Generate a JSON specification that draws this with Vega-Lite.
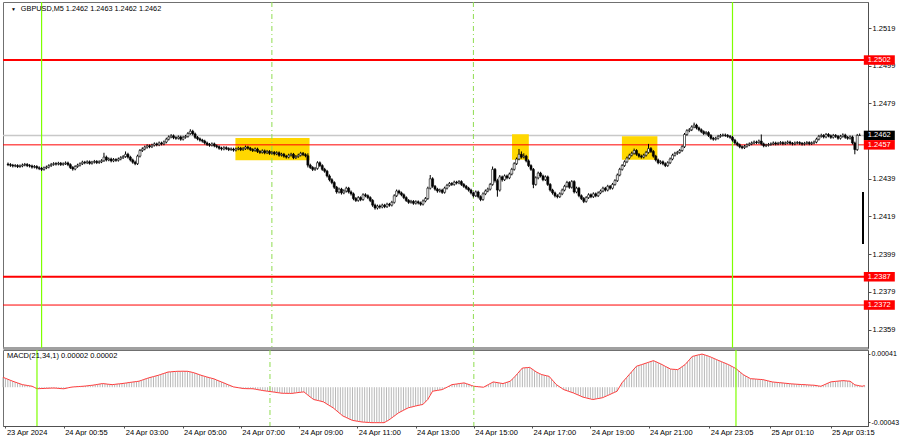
{
"$schema": "https://vega.github.io/schema/vega-lite/v6.json",
"padding": 0,
"background": "#ffffff",
"spacing": -2,
"config": {
 "font": "Liberation Sans",
 "view": {"stroke": "#707070", "strokeWidth": 1},
 "axis": {"labelFont": "Liberation Sans", "labelFontSize": 7.5, "labelColor": "#000000", "domainColor": "#505050", "tickColor": "#505050", "grid": false},
 "text": {"font": "Liberation Sans"}
},
"datasets": {
 "boxes": [{"a":80.8,"b":111.7,"lo":1.24488,"hi":1.24606},{"a":196.1,"b":203.1,"lo":1.24491,"hi":1.24626},{"a":241.9,"b":256.7,"lo":1.24491,"hi":1.24615}],
 "levels": [{"p":1.2502,"k":"major"},{"p":1.2457,"k":"minor"},{"p":1.2387,"k":"major"},{"p":1.2372,"k":"minor"}],
 "tags": [{"p":1.2462,"k":"bid"},{"p":1.2502,"k":"level"},{"p":1.2457,"k":"level"},{"p":1.2387,"k":"level"},{"p":1.2372,"k":"level"}],
 "vsolid": [{"i":0},{"i":288}],
 "vdash": [{"i":96},{"i":180}],
 "bars": [
{"i":-14,"o":1.24468,"h":1.24476,"l":1.24457,"c":1.24465,"m":0.000122},
{"i":-13,"o":1.24465,"h":1.24473,"l":1.24453,"c":1.24462,"m":0.00011},
{"i":-12,"o":1.24462,"h":1.24469,"l":1.2445,"c":1.24458,"m":0.000098},
{"i":-11,"o":1.24458,"h":1.24468,"l":1.24451,"c":1.2446,"m":0.000086},
{"i":-10,"o":1.2446,"h":1.24467,"l":1.24447,"c":1.24455,"m":0.000074},
{"i":-9,"o":1.24455,"h":1.24466,"l":1.24448,"c":1.24458,"m":0.000063},
{"i":-8,"o":1.24458,"h":1.24471,"l":1.24451,"c":1.24463,"m":0.000053},
{"i":-7,"o":1.24463,"h":1.24474,"l":1.24456,"c":1.24466,"m":0.000042},
{"i":-6,"o":1.24466,"h":1.24473,"l":1.24452,"c":1.2446,"m":0.000032},
{"i":-5,"o":1.2446,"h":1.24468,"l":1.2445,"c":1.24458,"m":0.000027},
{"i":-4,"o":1.24458,"h":1.24465,"l":1.24444,"c":1.24452,"m":0.000022},
{"i":-3,"o":1.24452,"h":1.24463,"l":1.24445,"c":1.24455,"m":0.000017},
{"i":-2,"o":1.24455,"h":1.24462,"l":1.2444,"c":1.24448,"m":0.000012},
{"i":-1,"o":1.24448,"h":1.24456,"l":1.24436,"c":1.24445,"m":-0.000003},
{"i":0,"o":1.24445,"h":1.24452,"l":1.24431,"c":1.2444,"m":-0.000019},
{"i":1,"o":1.2444,"h":1.24455,"l":1.24433,"c":1.24448,"m":-0.000017},
{"i":2,"o":1.24448,"h":1.2446,"l":1.24441,"c":1.24452,"m":-0.000016},
{"i":3,"o":1.24452,"h":1.24467,"l":1.24445,"c":1.2446,"m":-0.000015},
{"i":4,"o":1.2446,"h":1.24474,"l":1.24453,"c":1.24466,"m":-0.000013},
{"i":5,"o":1.24466,"h":1.24478,"l":1.24459,"c":1.2447,"m":-0.000012},
{"i":6,"o":1.2447,"h":1.24478,"l":1.2446,"c":1.24468,"m":-0.000011},
{"i":7,"o":1.24468,"h":1.2448,"l":1.24461,"c":1.24472,"m":-0.00001},
{"i":8,"o":1.24472,"h":1.24479,"l":1.24458,"c":1.24466,"m":-0.000012},
{"i":9,"o":1.24466,"h":1.24477,"l":1.24459,"c":1.2447,"m":-0.000015},
{"i":10,"o":1.2447,"h":1.24482,"l":1.24463,"c":1.24474,"m":-0.000017},
{"i":11,"o":1.24474,"h":1.24481,"l":1.24457,"c":1.24465,"m":-0.000019},
{"i":12,"o":1.24465,"h":1.24472,"l":1.24442,"c":1.2445,"m":-0.000013},
{"i":13,"o":1.2445,"h":1.24457,"l":1.24433,"c":1.24442,"m":-0.000006},
{"i":14,"o":1.24442,"h":1.24462,"l":1.24435,"c":1.24455,"m":0},
{"i":15,"o":1.24455,"h":1.2447,"l":1.24448,"c":1.24462,"m":0.000004},
{"i":16,"o":1.24462,"h":1.24477,"l":1.24455,"c":1.2447,"m":0.000006},
{"i":17,"o":1.2447,"h":1.24486,"l":1.24463,"c":1.24478,"m":0.000008},
{"i":18,"o":1.24478,"h":1.24485,"l":1.24467,"c":1.24475,"m":0.00001},
{"i":19,"o":1.24475,"h":1.24488,"l":1.24468,"c":1.2448,"m":0.000012},
{"i":20,"o":1.2448,"h":1.24487,"l":1.24465,"c":1.24472,"m":0.000015},
{"i":21,"o":1.24472,"h":1.24485,"l":1.24465,"c":1.24478,"m":0.000018},
{"i":22,"o":1.24478,"h":1.2449,"l":1.24471,"c":1.24482,"m":0.000022},
{"i":23,"o":1.24482,"h":1.24489,"l":1.24468,"c":1.24476,"m":0.000025},
{"i":24,"o":1.24476,"h":1.24488,"l":1.24469,"c":1.2448,"m":0.00003},
{"i":25,"o":1.2448,"h":1.24494,"l":1.24473,"c":1.24486,"m":0.000035},
{"i":26,"o":1.24486,"h":1.24528,"l":1.24479,"c":1.24505,"m":0.00004},
{"i":27,"o":1.24505,"h":1.24513,"l":1.24482,"c":1.2449,"m":0.000045},
{"i":28,"o":1.2449,"h":1.24503,"l":1.24483,"c":1.24495,"m":0.000042},
{"i":29,"o":1.24495,"h":1.24502,"l":1.24477,"c":1.24485,"m":0.000038},
{"i":30,"o":1.24485,"h":1.245,"l":1.24478,"c":1.24492,"m":0.000035},
{"i":31,"o":1.24492,"h":1.24499,"l":1.2448,"c":1.24488,"m":0.000032},
{"i":32,"o":1.24488,"h":1.24503,"l":1.24481,"c":1.24495,"m":0.000035},
{"i":33,"o":1.24495,"h":1.2451,"l":1.24488,"c":1.24502,"m":0.000039},
{"i":34,"o":1.24502,"h":1.24516,"l":1.24495,"c":1.24508,"m":0.000042},
{"i":35,"o":1.24508,"h":1.24535,"l":1.24501,"c":1.2452,"m":0.000045},
{"i":36,"o":1.2452,"h":1.24528,"l":1.24497,"c":1.24505,"m":0.000049},
{"i":37,"o":1.24505,"h":1.24512,"l":1.24482,"c":1.2449,"m":0.000053},
{"i":38,"o":1.2449,"h":1.24497,"l":1.2447,"c":1.24478,"m":0.000058},
{"i":39,"o":1.24478,"h":1.24486,"l":1.24462,"c":1.2447,"m":0.000062},
{"i":40,"o":1.2447,"h":1.24518,"l":1.24463,"c":1.2451,"m":0.000066},
{"i":41,"o":1.2451,"h":1.24548,"l":1.24503,"c":1.2454,"m":0.00007},
{"i":42,"o":1.2454,"h":1.24557,"l":1.24532,"c":1.24548,"m":0.000074},
{"i":43,"o":1.24548,"h":1.24566,"l":1.24541,"c":1.24558,"m":0.000084},
{"i":44,"o":1.24558,"h":1.24573,"l":1.2455,"c":1.24565,"m":0.000095},
{"i":45,"o":1.24565,"h":1.24572,"l":1.24552,"c":1.2456,"m":0.000105},
{"i":46,"o":1.2456,"h":1.24576,"l":1.24553,"c":1.24568,"m":0.000115},
{"i":47,"o":1.24568,"h":1.24583,"l":1.24561,"c":1.24575,"m":0.000123},
{"i":48,"o":1.24575,"h":1.24582,"l":1.24562,"c":1.2457,"m":0.000131},
{"i":49,"o":1.2457,"h":1.24588,"l":1.24563,"c":1.2458,"m":0.000139},
{"i":50,"o":1.2458,"h":1.24587,"l":1.24567,"c":1.24575,"m":0.000147},
{"i":51,"o":1.24575,"h":1.24593,"l":1.24568,"c":1.24585,"m":0.000157},
{"i":52,"o":1.24585,"h":1.24608,"l":1.24578,"c":1.246,"m":0.000167},
{"i":53,"o":1.246,"h":1.2462,"l":1.24593,"c":1.24612,"m":0.000177},
{"i":54,"o":1.24612,"h":1.24627,"l":1.24605,"c":1.24618,"m":0.000187},
{"i":55,"o":1.24618,"h":1.24625,"l":1.246,"c":1.24608,"m":0.000189},
{"i":56,"o":1.24608,"h":1.24616,"l":1.24597,"c":1.24605,"m":0.000192},
{"i":57,"o":1.24605,"h":1.2462,"l":1.24598,"c":1.24612,"m":0.000194},
{"i":58,"o":1.24612,"h":1.24619,"l":1.24592,"c":1.246,"m":0.000196},
{"i":59,"o":1.246,"h":1.24618,"l":1.24593,"c":1.2461,"m":0.000196},
{"i":60,"o":1.2461,"h":1.24623,"l":1.24603,"c":1.24615,"m":0.000197},
{"i":61,"o":1.24615,"h":1.24638,"l":1.24608,"c":1.2463,"m":0.000196},
{"i":62,"o":1.2463,"h":1.24653,"l":1.24623,"c":1.24642,"m":0.000196},
{"i":63,"o":1.24642,"h":1.2465,"l":1.2462,"c":1.24628,"m":0.00019},
{"i":64,"o":1.24628,"h":1.24635,"l":1.24602,"c":1.2461,"m":0.000183},
{"i":65,"o":1.2461,"h":1.24617,"l":1.24594,"c":1.24602,"m":0.000175},
{"i":66,"o":1.24602,"h":1.24609,"l":1.24587,"c":1.24595,"m":0.000164},
{"i":67,"o":1.24595,"h":1.24602,"l":1.24582,"c":1.2459,"m":0.000154},
{"i":68,"o":1.2459,"h":1.24597,"l":1.24572,"c":1.2458,"m":0.000143},
{"i":69,"o":1.2458,"h":1.24587,"l":1.24564,"c":1.24572,"m":0.000135},
{"i":70,"o":1.24572,"h":1.2458,"l":1.2456,"c":1.24568,"m":0.000126},
{"i":71,"o":1.24568,"h":1.24583,"l":1.24561,"c":1.24575,"m":0.000118},
{"i":72,"o":1.24575,"h":1.24582,"l":1.24557,"c":1.24565,"m":0.00011},
{"i":73,"o":1.24565,"h":1.24572,"l":1.24552,"c":1.2456,"m":0.000102},
{"i":74,"o":1.2456,"h":1.24567,"l":1.24544,"c":1.24552,"m":0.000089},
{"i":75,"o":1.24552,"h":1.2456,"l":1.2454,"c":1.24548,"m":0.000077},
{"i":76,"o":1.24548,"h":1.24563,"l":1.24541,"c":1.24555,"m":0.000065},
{"i":77,"o":1.24555,"h":1.24562,"l":1.24542,"c":1.2455,"m":0.000053},
{"i":78,"o":1.2455,"h":1.24557,"l":1.24537,"c":1.24545,"m":0.00004},
{"i":79,"o":1.24545,"h":1.24556,"l":1.24538,"c":1.24548,"m":0.000028},
{"i":80,"o":1.24548,"h":1.24555,"l":1.24534,"c":1.24542,"m":0.000016},
{"i":81,"o":1.24542,"h":1.24556,"l":1.24535,"c":1.24548,"m":0.000004},
{"i":82,"o":1.24548,"h":1.2456,"l":1.24541,"c":1.24552,"m":-0.000001},
{"i":83,"o":1.24552,"h":1.24559,"l":1.24537,"c":1.24545,"m":-0.000006},
{"i":84,"o":1.24545,"h":1.24558,"l":1.24538,"c":1.2455,"m":-0.000011},
{"i":85,"o":1.2455,"h":1.24566,"l":1.24543,"c":1.24558,"m":-0.000016},
{"i":86,"o":1.24558,"h":1.24565,"l":1.24544,"c":1.24552,"m":-0.000017},
{"i":87,"o":1.24552,"h":1.24559,"l":1.24537,"c":1.24545,"m":-0.000018},
{"i":88,"o":1.24545,"h":1.24552,"l":1.24532,"c":1.2454,"m":-0.000018},
{"i":89,"o":1.2454,"h":1.24556,"l":1.24533,"c":1.24548,"m":-0.000019},
{"i":90,"o":1.24548,"h":1.24555,"l":1.24527,"c":1.24535,"m":-0.000024},
{"i":91,"o":1.24535,"h":1.24542,"l":1.24522,"c":1.2453,"m":-0.00003},
{"i":92,"o":1.2453,"h":1.24546,"l":1.24523,"c":1.24538,"m":-0.000035},
{"i":93,"o":1.24538,"h":1.24545,"l":1.2452,"c":1.24528,"m":-0.000041},
{"i":94,"o":1.24528,"h":1.24543,"l":1.24521,"c":1.24535,"m":-0.000045},
{"i":95,"o":1.24535,"h":1.24542,"l":1.24517,"c":1.24525,"m":-0.000049},
{"i":96,"o":1.24525,"h":1.24538,"l":1.24518,"c":1.2453,"m":-0.000053},
{"i":97,"o":1.2453,"h":1.24537,"l":1.24514,"c":1.24522,"m":-0.000057},
{"i":98,"o":1.24522,"h":1.24536,"l":1.24515,"c":1.24528,"m":-0.000061},
{"i":99,"o":1.24528,"h":1.24535,"l":1.24507,"c":1.24515,"m":-0.000066},
{"i":100,"o":1.24515,"h":1.24528,"l":1.24508,"c":1.2452,"m":-0.00007},
{"i":101,"o":1.2452,"h":1.24527,"l":1.24502,"c":1.2451,"m":-0.000074},
{"i":102,"o":1.2451,"h":1.24517,"l":1.24497,"c":1.24505,"m":-0.000075},
{"i":103,"o":1.24505,"h":1.24523,"l":1.24498,"c":1.24515,"m":-0.000075},
{"i":104,"o":1.24515,"h":1.24528,"l":1.24508,"c":1.2452,"m":-0.000076},
{"i":105,"o":1.2452,"h":1.24527,"l":1.24494,"c":1.24502,"m":-0.000076},
{"i":106,"o":1.24502,"h":1.24516,"l":1.24495,"c":1.24508,"m":-0.000072},
{"i":107,"o":1.24508,"h":1.24523,"l":1.24501,"c":1.24515,"m":-0.000068},
{"i":108,"o":1.24515,"h":1.24533,"l":1.24508,"c":1.24525,"m":-0.000064},
{"i":109,"o":1.24525,"h":1.24532,"l":1.2451,"c":1.24518,"m":-0.000061},
{"i":110,"o":1.24518,"h":1.24525,"l":1.24504,"c":1.24512,"m":-0.000057},
{"i":111,"o":1.24512,"h":1.24525,"l":1.2445,"c":1.24462,"m":-0.000082},
{"i":112,"o":1.24462,"h":1.2447,"l":1.24442,"c":1.2445,"m":-0.000106},
{"i":113,"o":1.2445,"h":1.24457,"l":1.24431,"c":1.2444,"m":-0.000129},
{"i":114,"o":1.2444,"h":1.24453,"l":1.24432,"c":1.24445,"m":-0.000151},
{"i":115,"o":1.24445,"h":1.24483,"l":1.24438,"c":1.24475,"m":-0.000158},
{"i":116,"o":1.24475,"h":1.24482,"l":1.24452,"c":1.2446,"m":-0.000165},
{"i":117,"o":1.2446,"h":1.24467,"l":1.24432,"c":1.2444,"m":-0.000172},
{"i":118,"o":1.2444,"h":1.24448,"l":1.24422,"c":1.2443,"m":-0.00018},
{"i":119,"o":1.2443,"h":1.24437,"l":1.24397,"c":1.24405,"m":-0.000198},
{"i":120,"o":1.24405,"h":1.24413,"l":1.24376,"c":1.24385,"m":-0.000217},
{"i":121,"o":1.24385,"h":1.24393,"l":1.24361,"c":1.2437,"m":-0.000235},
{"i":122,"o":1.2437,"h":1.24377,"l":1.24336,"c":1.24345,"m":-0.000253},
{"i":123,"o":1.24345,"h":1.24352,"l":1.24311,"c":1.2432,"m":-0.000278},
{"i":124,"o":1.2432,"h":1.24343,"l":1.24312,"c":1.24335,"m":-0.000303},
{"i":125,"o":1.24335,"h":1.24342,"l":1.24306,"c":1.24315,"m":-0.000328},
{"i":126,"o":1.24315,"h":1.24334,"l":1.24308,"c":1.24325,"m":-0.000353},
{"i":127,"o":1.24325,"h":1.24348,"l":1.24317,"c":1.2434,"m":-0.000367},
{"i":128,"o":1.2434,"h":1.24347,"l":1.24312,"c":1.2432,"m":-0.000381},
{"i":129,"o":1.2432,"h":1.24328,"l":1.24301,"c":1.2431,"m":-0.000395},
{"i":130,"o":1.2431,"h":1.24317,"l":1.24276,"c":1.24285,"m":-0.000408},
{"i":131,"o":1.24285,"h":1.24293,"l":1.24267,"c":1.24275,"m":-0.000413},
{"i":132,"o":1.24275,"h":1.24298,"l":1.24268,"c":1.2429,"m":-0.000418},
{"i":133,"o":1.2429,"h":1.24297,"l":1.24271,"c":1.2428,"m":-0.000423},
{"i":134,"o":1.2428,"h":1.24313,"l":1.24273,"c":1.24305,"m":-0.000428},
{"i":135,"o":1.24305,"h":1.24313,"l":1.24292,"c":1.243,"m":-0.00043},
{"i":136,"o":1.243,"h":1.24307,"l":1.24282,"c":1.2429,"m":-0.000432},
{"i":137,"o":1.2429,"h":1.24297,"l":1.24266,"c":1.24275,"m":-0.000434},
{"i":138,"o":1.24275,"h":1.24282,"l":1.24241,"c":1.2425,"m":-0.000436},
{"i":139,"o":1.2425,"h":1.24258,"l":1.24226,"c":1.24235,"m":-0.000436},
{"i":140,"o":1.24235,"h":1.24253,"l":1.24227,"c":1.24245,"m":-0.000436},
{"i":141,"o":1.24245,"h":1.24253,"l":1.24231,"c":1.2424,"m":-0.000436},
{"i":142,"o":1.2424,"h":1.24258,"l":1.24233,"c":1.2425,"m":-0.000436},
{"i":143,"o":1.2425,"h":1.24257,"l":1.24234,"c":1.24242,"m":-0.000436},
{"i":144,"o":1.24242,"h":1.24263,"l":1.24235,"c":1.24255,"m":-0.00042},
{"i":145,"o":1.24255,"h":1.24262,"l":1.24242,"c":1.2425,"m":-0.000403},
{"i":146,"o":1.2425,"h":1.24273,"l":1.24243,"c":1.24265,"m":-0.000381},
{"i":147,"o":1.24265,"h":1.24308,"l":1.24258,"c":1.243,"m":-0.000359},
{"i":148,"o":1.243,"h":1.24333,"l":1.24293,"c":1.24325,"m":-0.000337},
{"i":149,"o":1.24325,"h":1.24332,"l":1.24307,"c":1.24315,"m":-0.000315},
{"i":150,"o":1.24315,"h":1.24322,"l":1.24297,"c":1.24305,"m":-0.000299},
{"i":151,"o":1.24305,"h":1.24312,"l":1.24282,"c":1.2429,"m":-0.000284},
{"i":152,"o":1.2429,"h":1.24297,"l":1.24267,"c":1.24275,"m":-0.000268},
{"i":153,"o":1.24275,"h":1.24282,"l":1.24257,"c":1.24265,"m":-0.000253},
{"i":154,"o":1.24265,"h":1.24278,"l":1.24258,"c":1.2427,"m":-0.000246},
{"i":155,"o":1.2427,"h":1.24277,"l":1.24252,"c":1.2426,"m":-0.000239},
{"i":156,"o":1.2426,"h":1.24276,"l":1.24253,"c":1.24268,"m":-0.000231},
{"i":157,"o":1.24268,"h":1.24275,"l":1.24254,"c":1.24262,"m":-0.000224},
{"i":158,"o":1.24262,"h":1.24269,"l":1.24247,"c":1.24255,"m":-0.000218},
{"i":159,"o":1.24255,"h":1.2428,"l":1.24248,"c":1.24272,"m":-0.000212},
{"i":160,"o":1.24272,"h":1.24293,"l":1.24265,"c":1.24285,"m":-0.000182},
{"i":161,"o":1.24285,"h":1.24348,"l":1.24278,"c":1.2434,"m":-0.000151},
{"i":162,"o":1.2434,"h":1.2441,"l":1.24333,"c":1.2439,"m":-0.0001},
{"i":163,"o":1.2439,"h":1.24398,"l":1.24342,"c":1.2435,"m":-0.000049},
{"i":164,"o":1.2435,"h":1.24357,"l":1.24327,"c":1.24335,"m":-0.000044},
{"i":165,"o":1.24335,"h":1.24342,"l":1.24316,"c":1.24325,"m":-0.000039},
{"i":166,"o":1.24325,"h":1.24338,"l":1.24317,"c":1.2433,"m":-0.000034},
{"i":167,"o":1.2433,"h":1.24337,"l":1.2431,"c":1.24318,"m":-0.000029},
{"i":168,"o":1.24318,"h":1.24348,"l":1.24311,"c":1.2434,"m":-0.000014},
{"i":169,"o":1.2434,"h":1.24363,"l":1.24333,"c":1.24355,"m":0.000001},
{"i":170,"o":1.24355,"h":1.24373,"l":1.24348,"c":1.24365,"m":0.000017},
{"i":171,"o":1.24365,"h":1.24372,"l":1.24352,"c":1.2436,"m":0.000032},
{"i":172,"o":1.2436,"h":1.2438,"l":1.24353,"c":1.24372,"m":0.000036},
{"i":173,"o":1.24372,"h":1.24379,"l":1.2436,"c":1.24368,"m":0.00004},
{"i":174,"o":1.24368,"h":1.24383,"l":1.24361,"c":1.24375,"m":0.000045},
{"i":175,"o":1.24375,"h":1.24382,"l":1.24352,"c":1.2436,"m":0.000049},
{"i":176,"o":1.2436,"h":1.24367,"l":1.24342,"c":1.2435,"m":0.000053},
{"i":177,"o":1.2435,"h":1.24357,"l":1.24332,"c":1.2434,"m":0.000043},
{"i":178,"o":1.2434,"h":1.24347,"l":1.24322,"c":1.2433,"m":0.000033},
{"i":179,"o":1.2433,"h":1.24337,"l":1.24307,"c":1.24315,"m":0.000022},
{"i":180,"o":1.24315,"h":1.24322,"l":1.24291,"c":1.243,"m":0.000012},
{"i":181,"o":1.243,"h":1.24328,"l":1.24293,"c":1.2432,"m":0.000009},
{"i":182,"o":1.2432,"h":1.24327,"l":1.24286,"c":1.24295,"m":0.000006},
{"i":183,"o":1.24295,"h":1.24302,"l":1.24271,"c":1.2428,"m":0.000003},
{"i":184,"o":1.2428,"h":1.24318,"l":1.24273,"c":1.2431,"m":0},
{"i":185,"o":1.2431,"h":1.24333,"l":1.24303,"c":1.24325,"m":0.000016},
{"i":186,"o":1.24325,"h":1.24343,"l":1.24318,"c":1.24335,"m":0.000033},
{"i":187,"o":1.24335,"h":1.24368,"l":1.24328,"c":1.2436,"m":0.000049},
{"i":188,"o":1.2436,"h":1.24455,"l":1.24353,"c":1.2444,"m":0.000065},
{"i":189,"o":1.2444,"h":1.24447,"l":1.2437,"c":1.2438,"m":0.00006},
{"i":190,"o":1.2438,"h":1.2439,"l":1.24295,"c":1.2433,"m":0.000055},
{"i":191,"o":1.2433,"h":1.2441,"l":1.24322,"c":1.244,"m":0.00005},
{"i":192,"o":1.244,"h":1.24407,"l":1.24375,"c":1.24385,"m":0.000045},
{"i":193,"o":1.24385,"h":1.24413,"l":1.24378,"c":1.24405,"m":0.000055},
{"i":194,"o":1.24405,"h":1.24412,"l":1.24387,"c":1.24395,"m":0.000064},
{"i":195,"o":1.24395,"h":1.24423,"l":1.24388,"c":1.24415,"m":0.000074},
{"i":196,"o":1.24415,"h":1.24448,"l":1.24408,"c":1.2444,"m":0.000104},
{"i":197,"o":1.2444,"h":1.24478,"l":1.24433,"c":1.2447,"m":0.000134},
{"i":198,"o":1.2447,"h":1.24503,"l":1.24463,"c":1.24495,"m":0.000168},
{"i":199,"o":1.24495,"h":1.24548,"l":1.24488,"c":1.2452,"m":0.000202},
{"i":200,"o":1.2452,"h":1.24535,"l":1.24497,"c":1.24505,"m":0.000236},
{"i":201,"o":1.24505,"h":1.24525,"l":1.24498,"c":1.2451,"m":0.000239},
{"i":202,"o":1.2451,"h":1.24517,"l":1.24477,"c":1.24485,"m":0.000241},
{"i":203,"o":1.24485,"h":1.24493,"l":1.24452,"c":1.2446,"m":0.000244},
{"i":204,"o":1.2446,"h":1.24467,"l":1.24432,"c":1.2444,"m":0.000224},
{"i":205,"o":1.2444,"h":1.24447,"l":1.2434,"c":1.2436,"m":0.000203},
{"i":206,"o":1.2436,"h":1.24403,"l":1.24353,"c":1.24395,"m":0.000183},
{"i":207,"o":1.24395,"h":1.24428,"l":1.24387,"c":1.2442,"m":0.000169},
{"i":208,"o":1.2442,"h":1.24427,"l":1.24397,"c":1.24405,"m":0.000155},
{"i":209,"o":1.24405,"h":1.24412,"l":1.24377,"c":1.24385,"m":0.000148},
{"i":210,"o":1.24385,"h":1.24408,"l":1.24378,"c":1.244,"m":0.000141},
{"i":211,"o":1.244,"h":1.24407,"l":1.24352,"c":1.2436,"m":0.000134},
{"i":212,"o":1.2436,"h":1.24367,"l":1.24322,"c":1.2433,"m":0.0001},
{"i":213,"o":1.2433,"h":1.24337,"l":1.24306,"c":1.24315,"m":0.000066},
{"i":214,"o":1.24315,"h":1.24322,"l":1.24291,"c":1.243,"m":0.000032},
{"i":215,"o":1.243,"h":1.24308,"l":1.24286,"c":1.24295,"m":0.000012},
{"i":216,"o":1.24295,"h":1.24318,"l":1.24288,"c":1.2431,"m":-0.000009},
{"i":217,"o":1.2431,"h":1.24338,"l":1.24303,"c":1.2433,"m":-0.000029},
{"i":218,"o":1.2433,"h":1.24358,"l":1.24323,"c":1.2435,"m":-0.000039},
{"i":219,"o":1.2435,"h":1.24379,"l":1.24343,"c":1.2437,"m":-0.00005},
{"i":220,"o":1.2437,"h":1.24377,"l":1.24337,"c":1.24345,"m":-0.00006},
{"i":221,"o":1.24345,"h":1.24383,"l":1.24338,"c":1.24375,"m":-0.00007},
{"i":222,"o":1.24375,"h":1.24382,"l":1.24312,"c":1.2432,"m":-0.000083},
{"i":223,"o":1.2432,"h":1.24348,"l":1.24313,"c":1.2434,"m":-0.000096},
{"i":224,"o":1.2434,"h":1.24347,"l":1.24292,"c":1.243,"m":-0.000109},
{"i":225,"o":1.243,"h":1.24307,"l":1.24277,"c":1.24285,"m":-0.000122},
{"i":226,"o":1.24285,"h":1.24293,"l":1.24261,"c":1.2427,"m":-0.000129},
{"i":227,"o":1.2427,"h":1.24298,"l":1.24263,"c":1.2429,"m":-0.000137},
{"i":228,"o":1.2429,"h":1.24313,"l":1.24283,"c":1.24305,"m":-0.000144},
{"i":229,"o":1.24305,"h":1.24312,"l":1.24287,"c":1.24295,"m":-0.000151},
{"i":230,"o":1.24295,"h":1.24318,"l":1.24288,"c":1.2431,"m":-0.000146},
{"i":231,"o":1.2431,"h":1.24317,"l":1.24292,"c":1.243,"m":-0.00014},
{"i":232,"o":1.243,"h":1.24323,"l":1.24293,"c":1.24315,"m":-0.000135},
{"i":233,"o":1.24315,"h":1.24333,"l":1.24308,"c":1.24325,"m":-0.000129},
{"i":234,"o":1.24325,"h":1.24348,"l":1.24318,"c":1.2434,"m":-0.000116},
{"i":235,"o":1.2434,"h":1.24347,"l":1.24322,"c":1.2433,"m":-0.000103},
{"i":236,"o":1.2433,"h":1.24358,"l":1.24323,"c":1.2435,"m":-0.00009},
{"i":237,"o":1.2435,"h":1.24357,"l":1.24332,"c":1.2434,"m":-0.000076},
{"i":238,"o":1.2434,"h":1.24368,"l":1.24333,"c":1.2436,"m":-0.000063},
{"i":239,"o":1.2436,"h":1.24388,"l":1.24353,"c":1.2438,"m":-0.000049},
{"i":240,"o":1.2438,"h":1.24418,"l":1.24373,"c":1.2441,"m":0.000002},
{"i":241,"o":1.2441,"h":1.24448,"l":1.24403,"c":1.2444,"m":0.000053},
{"i":242,"o":1.2444,"h":1.24468,"l":1.24433,"c":1.2446,"m":0.000087},
{"i":243,"o":1.2446,"h":1.24488,"l":1.24453,"c":1.2448,"m":0.000121},
{"i":244,"o":1.2448,"h":1.24508,"l":1.24473,"c":1.245,"m":0.000155},
{"i":245,"o":1.245,"h":1.24523,"l":1.24493,"c":1.24515,"m":0.000189},
{"i":246,"o":1.24515,"h":1.24534,"l":1.24508,"c":1.24525,"m":0.000224},
{"i":247,"o":1.24525,"h":1.2455,"l":1.24518,"c":1.2454,"m":0.000258},
{"i":248,"o":1.2454,"h":1.24547,"l":1.24512,"c":1.2452,"m":0.000268},
{"i":249,"o":1.2452,"h":1.24527,"l":1.24502,"c":1.2451,"m":0.000277},
{"i":250,"o":1.2451,"h":1.24518,"l":1.24497,"c":1.24505,"m":0.000287},
{"i":251,"o":1.24505,"h":1.24523,"l":1.24498,"c":1.24515,"m":0.000297},
{"i":252,"o":1.24515,"h":1.24538,"l":1.24508,"c":1.2453,"m":0.000307},
{"i":253,"o":1.2453,"h":1.24575,"l":1.24523,"c":1.2455,"m":0.000317},
{"i":254,"o":1.2455,"h":1.24558,"l":1.24527,"c":1.24535,"m":0.000327},
{"i":255,"o":1.24535,"h":1.24542,"l":1.24502,"c":1.2451,"m":0.000314},
{"i":256,"o":1.2451,"h":1.24517,"l":1.24482,"c":1.2449,"m":0.0003},
{"i":257,"o":1.2449,"h":1.24497,"l":1.24467,"c":1.24475,"m":0.000287},
{"i":258,"o":1.24475,"h":1.24488,"l":1.24467,"c":1.2448,"m":0.000271},
{"i":259,"o":1.2448,"h":1.24487,"l":1.24462,"c":1.2447,"m":0.000255},
{"i":260,"o":1.2447,"h":1.24477,"l":1.24452,"c":1.2446,"m":0.00024},
{"i":261,"o":1.2446,"h":1.24483,"l":1.24453,"c":1.24475,"m":0.000224},
{"i":262,"o":1.24475,"h":1.24503,"l":1.24468,"c":1.24495,"m":0.000221},
{"i":263,"o":1.24495,"h":1.24523,"l":1.24488,"c":1.24515,"m":0.000219},
{"i":264,"o":1.24515,"h":1.24533,"l":1.24508,"c":1.24525,"m":0.000216},
{"i":265,"o":1.24525,"h":1.24538,"l":1.24517,"c":1.2453,"m":0.000236},
{"i":266,"o":1.2453,"h":1.24548,"l":1.24523,"c":1.2454,"m":0.000257},
{"i":267,"o":1.2454,"h":1.24568,"l":1.24533,"c":1.2456,"m":0.000277},
{"i":268,"o":1.2456,"h":1.24633,"l":1.24553,"c":1.24625,"m":0.000311},
{"i":269,"o":1.24625,"h":1.24653,"l":1.24618,"c":1.24645,"m":0.000345},
{"i":270,"o":1.24645,"h":1.24659,"l":1.24637,"c":1.2465,"m":0.000379},
{"i":271,"o":1.2465,"h":1.24673,"l":1.24643,"c":1.24665,"m":0.000386},
{"i":272,"o":1.24665,"h":1.24688,"l":1.24658,"c":1.24675,"m":0.000394},
{"i":273,"o":1.24675,"h":1.24682,"l":1.24652,"c":1.2466,"m":0.000401},
{"i":274,"o":1.2466,"h":1.24667,"l":1.24642,"c":1.2465,"m":0.000408},
{"i":275,"o":1.2465,"h":1.24657,"l":1.24632,"c":1.2464,"m":0.000399},
{"i":276,"o":1.2464,"h":1.24647,"l":1.24622,"c":1.2463,"m":0.000389},
{"i":277,"o":1.2463,"h":1.24643,"l":1.24623,"c":1.24635,"m":0.000379},
{"i":278,"o":1.24635,"h":1.24642,"l":1.24612,"c":1.2462,"m":0.000366},
{"i":279,"o":1.2462,"h":1.24627,"l":1.24597,"c":1.24605,"m":0.000353},
{"i":280,"o":1.24605,"h":1.24612,"l":1.24592,"c":1.246,"m":0.00034},
{"i":281,"o":1.246,"h":1.24613,"l":1.24593,"c":1.24605,"m":0.000327},
{"i":282,"o":1.24605,"h":1.24623,"l":1.24598,"c":1.24615,"m":0.000315},
{"i":283,"o":1.24615,"h":1.24628,"l":1.24608,"c":1.2462,"m":0.000302},
{"i":284,"o":1.2462,"h":1.2463,"l":1.24613,"c":1.24622,"m":0.00029},
{"i":285,"o":1.24622,"h":1.2463,"l":1.24612,"c":1.2462,"m":0.000277},
{"i":286,"o":1.2462,"h":1.24627,"l":1.24607,"c":1.24615,"m":0.000261},
{"i":287,"o":1.24615,"h":1.24622,"l":1.24602,"c":1.2461,"m":0.000245},
{"i":288,"o":1.2461,"h":1.24617,"l":1.24587,"c":1.24595,"m":0.000229},
{"i":289,"o":1.24595,"h":1.24602,"l":1.24572,"c":1.2458,"m":0.000204},
{"i":290,"o":1.2458,"h":1.24587,"l":1.24562,"c":1.2457,"m":0.000179},
{"i":291,"o":1.2457,"h":1.24577,"l":1.24552,"c":1.2456,"m":0.000155},
{"i":292,"o":1.2456,"h":1.24567,"l":1.24547,"c":1.24555,"m":0.000138},
{"i":293,"o":1.24555,"h":1.2457,"l":1.24548,"c":1.24562,"m":0.000122},
{"i":294,"o":1.24562,"h":1.24578,"l":1.24555,"c":1.2457,"m":0.000105},
{"i":295,"o":1.2457,"h":1.24583,"l":1.24563,"c":1.24575,"m":0.000103},
{"i":296,"o":1.24575,"h":1.24588,"l":1.24568,"c":1.2458,"m":0.000101},
{"i":297,"o":1.2458,"h":1.24593,"l":1.24573,"c":1.24585,"m":0.000098},
{"i":298,"o":1.24585,"h":1.24592,"l":1.24574,"c":1.24582,"m":0.000096},
{"i":299,"o":1.24582,"h":1.24598,"l":1.24575,"c":1.2459,"m":0.000094},
{"i":300,"o":1.2459,"h":1.24625,"l":1.24567,"c":1.24575,"m":0.000087},
{"i":301,"o":1.24575,"h":1.24582,"l":1.24557,"c":1.24565,"m":0.00008},
{"i":302,"o":1.24565,"h":1.24576,"l":1.24558,"c":1.24568,"m":0.000072},
{"i":303,"o":1.24568,"h":1.2458,"l":1.24561,"c":1.24572,"m":0.000065},
{"i":304,"o":1.24572,"h":1.24583,"l":1.24565,"c":1.24575,"m":0.000062},
{"i":305,"o":1.24575,"h":1.24588,"l":1.24568,"c":1.2458,"m":0.000059},
{"i":306,"o":1.2458,"h":1.24587,"l":1.24567,"c":1.24575,"m":0.000056},
{"i":307,"o":1.24575,"h":1.24586,"l":1.24568,"c":1.24578,"m":0.000053},
{"i":308,"o":1.24578,"h":1.2459,"l":1.24571,"c":1.24582,"m":0.00005},
{"i":309,"o":1.24582,"h":1.24589,"l":1.24568,"c":1.24576,"m":0.000047},
{"i":310,"o":1.24576,"h":1.24588,"l":1.24569,"c":1.2458,"m":0.000044},
{"i":311,"o":1.2458,"h":1.24593,"l":1.24573,"c":1.24585,"m":0.000041},
{"i":312,"o":1.24585,"h":1.24592,"l":1.2457,"c":1.24578,"m":0.000039},
{"i":313,"o":1.24578,"h":1.24585,"l":1.24567,"c":1.24575,"m":0.000037},
{"i":314,"o":1.24575,"h":1.24588,"l":1.24568,"c":1.2458,"m":0.000035},
{"i":315,"o":1.2458,"h":1.2459,"l":1.24573,"c":1.24582,"m":0.000033},
{"i":316,"o":1.24582,"h":1.24589,"l":1.2457,"c":1.24578,"m":0.000032},
{"i":317,"o":1.24578,"h":1.24585,"l":1.24566,"c":1.24574,"m":0.00003},
{"i":318,"o":1.24574,"h":1.24586,"l":1.24567,"c":1.24578,"m":0.000028},
{"i":319,"o":1.24578,"h":1.2459,"l":1.24571,"c":1.24582,"m":0.000026},
{"i":320,"o":1.24582,"h":1.24589,"l":1.24568,"c":1.24576,"m":0.000025},
{"i":321,"o":1.24576,"h":1.24588,"l":1.24569,"c":1.2458,"m":0.000021},
{"i":322,"o":1.2458,"h":1.24593,"l":1.24573,"c":1.24585,"m":0.000016},
{"i":323,"o":1.24585,"h":1.24608,"l":1.24578,"c":1.246,"m":0.000012},
{"i":324,"o":1.246,"h":1.24623,"l":1.24593,"c":1.24615,"m":0.000025},
{"i":325,"o":1.24615,"h":1.24629,"l":1.24608,"c":1.2462,"m":0.000038},
{"i":326,"o":1.2462,"h":1.24627,"l":1.24604,"c":1.24612,"m":0.000052},
{"i":327,"o":1.24612,"h":1.24633,"l":1.24605,"c":1.24625,"m":0.000065},
{"i":328,"o":1.24625,"h":1.24632,"l":1.2461,"c":1.24618,"m":0.000069},
{"i":329,"o":1.24618,"h":1.24625,"l":1.24602,"c":1.2461,"m":0.000072},
{"i":330,"o":1.2461,"h":1.24628,"l":1.24603,"c":1.2462,"m":0.000075},
{"i":331,"o":1.2462,"h":1.24627,"l":1.24607,"c":1.24615,"m":0.000078},
{"i":332,"o":1.24615,"h":1.24622,"l":1.24597,"c":1.24605,"m":0.000081},
{"i":333,"o":1.24605,"h":1.24623,"l":1.24598,"c":1.24615,"m":0.000079},
{"i":334,"o":1.24615,"h":1.24631,"l":1.24608,"c":1.24622,"m":0.000076},
{"i":335,"o":1.24622,"h":1.24629,"l":1.24602,"c":1.2461,"m":0.000074},
{"i":336,"o":1.2461,"h":1.24617,"l":1.24597,"c":1.24605,"m":0.000052},
{"i":337,"o":1.24605,"h":1.2462,"l":1.24598,"c":1.24612,"m":0.000029},
{"i":338,"o":1.24612,"h":1.24619,"l":1.24572,"c":1.2458,"m":0.000023},
{"i":339,"o":1.2458,"h":1.24587,"l":1.2452,"c":1.24545,"m":0.000017},
{"i":340,"o":1.24545,"h":1.24628,"l":1.24538,"c":1.2462,"m":0.000012},
{"i":341,"o":1.2462,"h":1.2463,"l":1.2462,"c":1.2462,"m":0.00002}
 ]
},
"vconcat": [
 {
  "width": 865,
  "height": 346,
  "layer": [
   {
    "data": {"name": "bars"},
    "mark": {"type": "rule", "color": "#000000", "strokeWidth": 1, "opacity": 0},
    "encoding": {
     "x": {"field": "i", "type": "quantitative", "scale": {"domain": [-14, 342.4], "nice": false, "zero": false},
           "axis": {"orient": "bottom", "labels": false, "ticks": false, "domain": true, "domainColor": "#a0a0a0", "domainWidth": 3, "grid": false, "title": null, "minExtent": 0, "maxExtent": 0}},
     "y": {"field": "l", "type": "quantitative", "scale": {"domain": [1.23492, 1.25328], "nice": false, "zero": false},
           "axis": {"orient": "right", "values": [1.2359, 1.2379, 1.2399, 1.2419, 1.2439, 1.2479, 1.2499, 1.2519], "format": ".4f", "tickSize": 3, "labelPadding": 1, "labelOverlap": false, "labelBound": false, "grid": false, "title": null}}
    }
   },
   {
    "data": {"values": [{"p": 1.2462}]},
    "mark": {"type": "rule", "color": "#c8c8c8", "strokeWidth": 1.5},
    "encoding": {"y": {"field": "p", "type": "quantitative", "scale": {"domain": [1.23492, 1.25328], "nice": false, "zero": false}}}
   },
   {
    "data": {"name": "boxes"},
    "mark": {"type": "rect", "color": "#ffd700"},
    "encoding": {
     "x": {"field": "a", "type": "quantitative", "scale": {"domain": [-14, 342.4], "nice": false, "zero": false}},
     "x2": {"field": "b"},
     "y": {"field": "lo", "type": "quantitative", "scale": {"domain": [1.23492, 1.25328], "nice": false, "zero": false}},
     "y2": {"field": "hi"}
    }
   },
   {
    "data": {"name": "levels"},
    "mark": {"type": "rule", "color": "#ff0000"},
    "encoding": {
     "y": {"field": "p", "type": "quantitative", "scale": {"domain": [1.23492, 1.25328], "nice": false, "zero": false}},
     "strokeWidth": {"field": "k", "type": "nominal", "scale": {"domain": ["major", "minor"], "range": [2, 1]}, "legend": null}
    }
   },
   {
    "data": {"name": "vsolid"},
    "mark": {"type": "rule", "color": "#7fff00", "strokeWidth": 1.2},
    "encoding": {"x": {"field": "i", "type": "quantitative", "scale": {"domain": [-14, 342.4], "nice": false, "zero": false}}}
   },
   {
    "data": {"name": "vdash"},
    "mark": {"type": "rule", "color": "#8fdc50", "strokeWidth": 1, "strokeDash": [5, 3, 1, 3]},
    "encoding": {"x": {"field": "i", "type": "quantitative", "scale": {"domain": [-14, 342.4], "nice": false, "zero": false}}}
   },
   {
    "data": {"name": "bars"},
    "mark": {"type": "rule", "color": "#000000", "strokeWidth": 1},
    "encoding": {
     "x": {"field": "i", "type": "quantitative", "scale": {"domain": [-14, 342.4], "nice": false, "zero": false}},
     "y": {"field": "l", "type": "quantitative", "scale": {"domain": [1.23492, 1.25328], "nice": false, "zero": false}},
     "y2": {"field": "h"}
    }
   },
   {
    "data": {"name": "bars"},
    "mark": {"type": "bar", "width": 2, "stroke": "#000000", "strokeWidth": 0.6},
    "encoding": {
     "x": {"field": "i", "type": "quantitative", "scale": {"domain": [-14, 342.4], "nice": false, "zero": false}},
     "y": {"field": "o", "type": "quantitative", "scale": {"domain": [1.23492, 1.25328], "nice": false, "zero": false}},
     "y2": {"field": "c"},
     "fill": {"condition": {"test": "datum.c > datum.o", "value": "#ffffff"}, "value": "#000000"}
    }
   },
   {
    "data": {"values": [{"a": 342.4, "lo": 1.24044, "hi": 1.2432}]},
    "mark": {"type": "rule", "color": "#000000", "strokeWidth": 2},
    "encoding": {
     "x": {"field": "a", "type": "quantitative", "scale": {"domain": [-14, 342.4], "nice": false, "zero": false}},
     "y": {"field": "lo", "type": "quantitative", "scale": {"domain": [1.23492, 1.25328], "nice": false, "zero": false}},
     "y2": {"field": "hi"}
    }
   },
   {
    "data": {"name": "tags"},
    "mark": {"type": "tick", "orient": "horizontal", "thickness": 9.5, "size": 31, "opacity": 1},
    "encoding": {
     "x": {"datum": 349.2, "type": "quantitative", "scale": {"domain": [-14, 342.4], "nice": false, "zero": false}},
     "y": {"field": "p", "type": "quantitative", "scale": {"domain": [1.23492, 1.25328], "nice": false, "zero": false}},
     "color": {"field": "k", "type": "nominal", "scale": {"domain": ["level", "bid"], "range": ["#ff0000", "#000000"]}, "legend": null}
    }
   },
   {
    "data": {"name": "tags"},
    "mark": {"type": "text", "color": "#ffffff", "fontSize": 7.5, "align": "center", "baseline": "middle", "font": "Liberation Sans"},
    "encoding": {
     "x": {"datum": 349.2, "type": "quantitative", "scale": {"domain": [-14, 342.4], "nice": false, "zero": false}},
     "y": {"field": "p", "type": "quantitative", "scale": {"domain": [1.23492, 1.25328], "nice": false, "zero": false}},
     "text": {"field": "p", "type": "quantitative", "format": ".4f"}
    }
   },
   {
    "data": {"values": [{"t": "▼"}]},
    "mark": {"type": "text", "color": "#000000", "fontSize": 5, "align": "center", "baseline": "middle"},
    "encoding": {
     "x": {"datum": -11.7, "type": "quantitative", "scale": {"domain": [-14, 342.4], "nice": false, "zero": false}},
     "y": {"datum": 1.25289, "type": "quantitative", "scale": {"domain": [1.23492, 1.25328], "nice": false, "zero": false}},
     "text": {"field": "t"}
    }
   },
   {
    "data": {"values": [{"t": "GBPUSD,M5  1.2462 1.2463 1.2462 1.2462"}]},
    "mark": {"type": "text", "color": "#000000", "fontSize": 7.3, "align": "left", "baseline": "middle", "font": "Liberation Sans"},
    "encoding": {
     "x": {"datum": -8.65, "type": "quantitative", "scale": {"domain": [-14, 342.4], "nice": false, "zero": false}},
     "y": {"datum": 1.25289, "type": "quantitative", "scale": {"domain": [1.23492, 1.25328], "nice": false, "zero": false}},
     "text": {"field": "t"}
    }
   }
  ]
 },
 {
  "width": 865,
  "height": 76,
  "layer": [
   {
    "data": {"name": "bars"},
    "mark": {"type": "rule", "color": "#b8b8b8", "strokeWidth": 1},
    "encoding": {
     "x": {"field": "i", "type": "quantitative", "scale": {"domain": [-14, 342.4], "nice": false, "zero": false},
           "axis": {"orient": "bottom", "values": [-13, 11, 36, 60, 84, 108, 132, 156, 180, 204, 228, 252, 277, 302, 327],
                    "labelExpr": "datum.value < 0 ? '23 Apr 2024' : utcFormat(utc(2024, 3, 24, 0, 5 * datum.value), '%d %b %H:%M')",
                    "labelAlign": "left", "labelOffset": 1, "labelPadding": 0, "tickSize": 2, "labelOverlap": false, "labelBound": false, "labelFlush": false, "grid": false, "title": null}},
     "y": {"field": "m", "type": "quantitative", "scale": {"domain": [-0.000477, 0.000458], "nice": false, "zero": false},
           "axis": {"orient": "right", "values": [0.00041, 0, -0.00043], "labelExpr": "datum.value > 0 ? '0.00041' : (datum.value < 0 ? '-0.00043' : '0.00')", "tickSize": 2, "labelPadding": 1, "labelFontSize": 7, "labelOverlap": false, "labelBound": false, "grid": false, "title": null}},
     "y2": {"datum": 0}
    }
   },
   {
    "data": {"name": "bars"},
    "mark": {"type": "line", "color": "#ff3b3b", "strokeWidth": 1},
    "encoding": {
     "x": {"field": "i", "type": "quantitative", "scale": {"domain": [-14, 342.4], "nice": false, "zero": false}},
     "y": {"field": "m", "type": "quantitative", "scale": {"domain": [-0.000477, 0.000458], "nice": false, "zero": false}}
    }
   },
   {
    "data": {"name": "vsolid"},
    "mark": {"type": "rule", "color": "#7fff00", "strokeWidth": 1.2},
    "encoding": {"x": {"field": "i", "type": "quantitative", "scale": {"domain": [-14, 342.4], "nice": false, "zero": false}}}
   },
   {
    "data": {"name": "vdash"},
    "mark": {"type": "rule", "color": "#8fdc50", "strokeWidth": 1, "strokeDash": [5, 3, 1, 3]},
    "encoding": {"x": {"field": "i", "type": "quantitative", "scale": {"domain": [-14, 342.4], "nice": false, "zero": false}}}
   },
   {
    "data": {"values": [{"t": "MACD(21,34,1) 0.00002 0.00002"}]},
    "mark": {"type": "text", "color": "#000000", "fontSize": 7.5, "align": "left", "baseline": "middle", "font": "Liberation Sans"},
    "encoding": {
     "x": {"datum": -12.4, "type": "quantitative", "scale": {"domain": [-14, 342.4], "nice": false, "zero": false}},
     "y": {"datum": 0.000385, "type": "quantitative", "scale": {"domain": [-0.000477, 0.000458], "nice": false, "zero": false}},
     "text": {"field": "t"}
    }
   }
  ]
 }
]
}
